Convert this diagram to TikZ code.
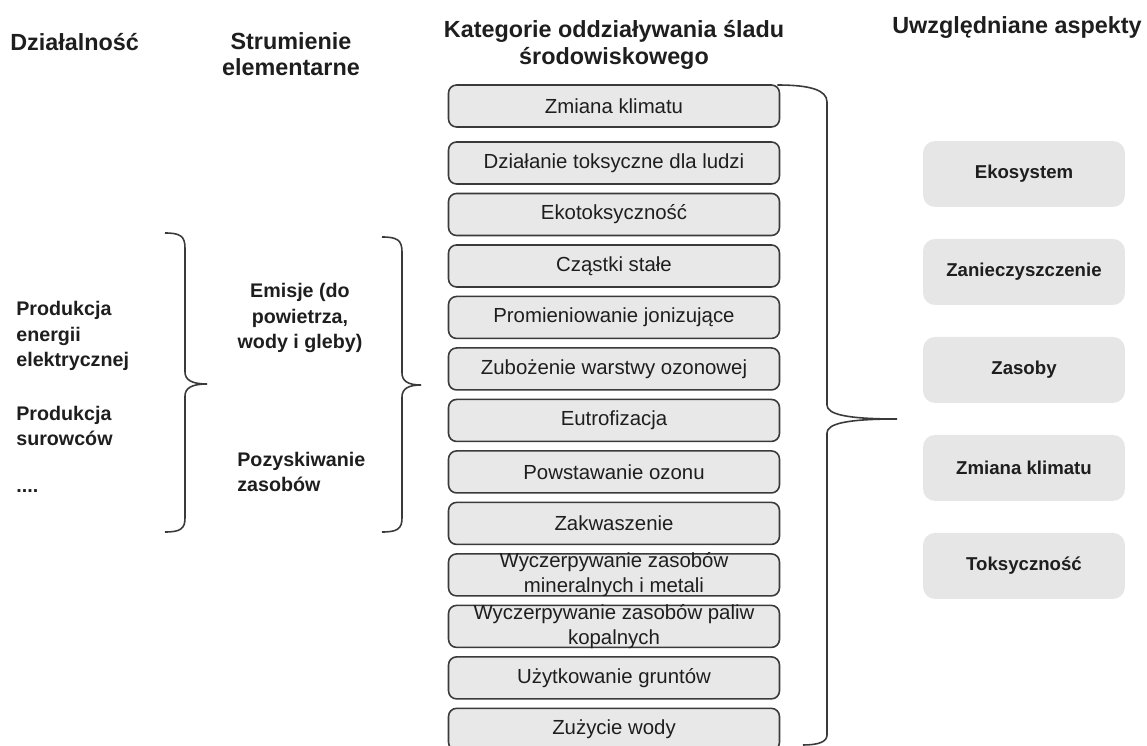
\documentclass[tikz,border=0pt]{standalone}
\usepackage{fontspec}
\setmainfont{Liberation Sans}
\usepackage{xcolor}
\usetikzlibrary{positioning}
\definecolor{boxgray}{HTML}{E8E8E8}
\definecolor{aspgray}{HTML}{E6E6E6}
\definecolor{linegray}{HTML}{3A3A3A}
\definecolor{txtdark}{HTML}{1E1E1E}

\begin{document}
\begin{tikzpicture}[
			x=0.02cm, y=-0.02cm,
			head/.style={font=\fontsize{13.3}{15}\selectfont\bfseries, text=txtdark, align=center, inner sep=0pt},
			leftlabel/.style={font=\fontsize{11.2}{14.5}\selectfont\bfseries, text=txtdark, align=left, anchor=west, inner sep=0pt},
			catblock/.style={draw=linegray, line width=0.9pt, outer sep=0pt, fill=boxgray, rounded corners=0.16cm, minimum width=6.62cm, minimum height=0.84cm, align=center, font=\fontsize{11.6}{14}\selectfont, text=txtdark},
			catblocktwo/.style={catblock, inner ysep=-2pt},
			aspblock/.style={fill=aspgray, outer sep=0pt, rounded corners=0.24cm, minimum width=4.04cm, minimum height=1.32cm, font=\fontsize{10.6}{12}\selectfont\bfseries, text=txtdark},
			bracket/.style={draw=linegray, line width=0.9pt},
			node distance=0.19cm
			]
			\useasboundingbox (0,0) rectangle (1147,746);
			
			% Column headers
			\node[head, anchor=west] (hdzial) at (10,42) {Działalność};
			\node[head] (hstrum) at (291,54) {Strumienie\\elementarne};
			\node[head] (hkat) at (614,45) {Kategorie oddziaływania śladu\\środowiskowego};
			\node[head] (hasp) at (1017,28) {Uwzględniane aspekty};
			
			% Activities
			\node[leftlabel] (energia) at (16,336) {Produkcja\\energii\\elektrycznej};
			\node[leftlabel] (surowce) at (16,426) {Produkcja\\surowców};
			\node[leftlabel] (inne) at (16,491) {....};
			
			% Elementary flows
			\node[leftlabel, anchor=center, align=center] (emisje) at (300,318) {Emisje (do\\powietrza,\\wody i gleby)};
			\node[leftlabel] (pozysk) at (237,472) {Pozyskiwanie\\zasobów};
			
			% Impact categories
			\node[catblock] (klimat) at (614,106) {Zmiana klimatu};
			\node[catblock,below=0.3cm of klimat] (toksludzi) {Działanie toksyczne dla ludzi};
			\node[catblock,below=of toksludzi] (ekotoks) {Ekotoksyczność};
			\node[catblock,below=of ekotoks] (czastki) {Cząstki stałe};
			\node[catblock,below=of czastki] (promien) {Promieniowanie jonizujące};
			\node[catblock,below=of promien] (ozonowa) {Zubożenie warstwy ozonowej};
			\node[catblock,below=of ozonowa] (eutrof) {Eutrofizacja};
			\node[catblock,below=of eutrof] (ozon) {Powstawanie ozonu};
			\node[catblock,below=of ozon] (zakw) {Zakwaszenie};
			\node[catblocktwo,below=of zakw] (mineral) {Wyczerpywanie zasobów\\mineralnych i metali};
			\node[catblocktwo,below=of mineral] (paliwa) {Wyczerpywanie zasobów paliw\\kopalnych};
			\node[catblock,below=of paliwa] (grunty) {Użytkowanie gruntów};
			\node[catblock,below=of grunty] (woda) {Zużycie wody};
			
			% Aspects
			\node[aspblock] (ekosys) at (1024,174) {Ekosystem};
			\node[aspblock,below=0.64cm of ekosys] (zanieczysz) {Zanieczyszczenie};
			\node[aspblock,below=0.64cm of zanieczysz] (zasoby) {Zasoby};
			\node[aspblock,below=0.64cm of zasoby] (zmiana) {Zmiana klimatu};
			\node[aspblock,below=0.64cm of zmiana] (toksycz) {Toksyczność};
			
			% Braces
			\draw[bracket] (165,233) .. controls (180,233) and (185,236) .. (185,248) -- (185,372)
			.. controls (185,380) and (192,384) .. (207,384) .. controls (192,384) and (185,388) .. (185,396)
			-- (185,518) .. controls (185,529) and (180,532) .. (165,532);
			\draw[bracket] (382,237) .. controls (397,237) and (402,240) .. (402,252) -- (402,373)
			.. controls (402,381) and (408,385) .. (421,385) .. controls (408,385) and (402,389) .. (402,397)
			-- (402,518) .. controls (402,529) and (397,532) .. (382,532);
			\draw[bracket] ([xshift=-0.04cm]klimat.north east) .. controls (810,85) and (827,90) .. (827,102) -- (827,405)
			.. controls (827,414) and (845,419) .. (897,419) .. controls (845,419) and (827,424) .. (827,433)
			-- (827,735) .. controls (827,742) and (818,745) .. (803,745);
			
		\end{tikzpicture}
\end{document}
